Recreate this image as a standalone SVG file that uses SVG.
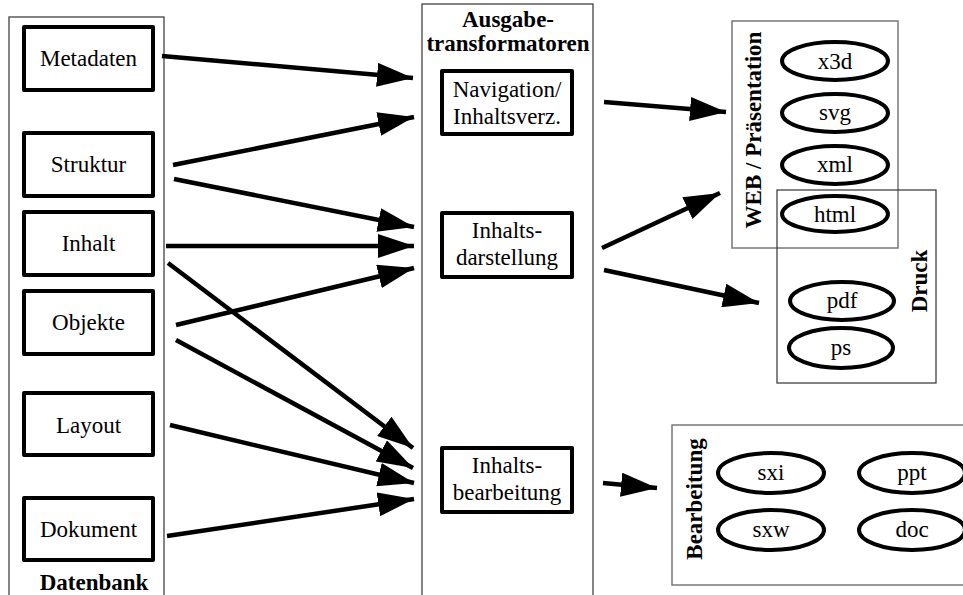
<svg xmlns="http://www.w3.org/2000/svg" width="963" height="595" viewBox="0 0 963 595">
  <style>
    text { font-family: "Liberation Serif", "Times New Roman", serif; font-size: 23px; fill: #000; }
    .bold { font-weight: bold; }
    .mid { text-anchor: middle; }
    .box { fill: #fff; stroke: #000; stroke-width: 4; stroke-linejoin: round; }
    .oval { fill: #fff; stroke: #000; stroke-width: 4; }
    .frame { fill: none; stroke: #333; stroke-width: 1.2; }
    .frame-light { fill: none; stroke: #777; stroke-width: 1.5; }
    .edge { stroke: #000; stroke-width: 4.5; fill: none; marker-end: url(#head); }
  </style>
  <defs>
    <marker id="head" markerUnits="userSpaceOnUse" markerWidth="37" markerHeight="24" refX="36" refY="12" orient="auto">
      <path d="M0,0 L36,12 L0,24 z" fill="#000"/>
    </marker>
  </defs>
  <rect width="963" height="595" fill="#fff"/>

  <!-- container frames -->
  <g id="datenbank">
    <rect class="frame" x="9" y="17" width="155" height="590"/>
    <text class="bold mid" x="94" y="590">Datenbank</text>
  </g>
  <g id="ausgabetransformatoren">
    <rect class="frame" x="422" y="4" width="171" height="600"/>
    <text class="bold mid" x="508" y="27">Ausgabe-</text>
    <text class="bold mid" x="508" y="51">transformatoren</text>
  </g>
  <g id="web">
    <rect class="frame-light" x="732" y="21" width="166" height="227"/>
    <text class="bold mid" transform="translate(761,130) rotate(-90)">WEB / Präsentation</text>
  </g>
  <g id="druck">
    <rect class="frame" x="777" y="190" width="159" height="193"/>
    <text class="bold mid" transform="translate(927,281) rotate(-90)">Druck</text>
  </g>
  <g id="bearbeitung">
    <rect class="frame-light" x="672" y="425" width="300" height="160"/>
    <text class="bold mid" transform="translate(702,499) rotate(-90)">Bearbeitung</text>
  </g>

  <!-- source boxes -->
  <g id="metadaten"><rect class="box" x="24" y="27" width="129" height="63"/><text class="mid" x="88.5" y="66">Metadaten</text></g>
  <g id="struktur"><rect class="box" x="24" y="133" width="129" height="63"/><text class="mid" x="88.5" y="172">Struktur</text></g>
  <g id="inhalt"><rect class="box" x="24" y="212" width="129" height="63"/><text class="mid" x="88.5" y="251">Inhalt</text></g>
  <g id="objekte"><rect class="box" x="24" y="291" width="129" height="63"/><text class="mid" x="88.5" y="330">Objekte</text></g>
  <g id="layout"><rect class="box" x="24" y="393" width="129" height="62"/><text class="mid" x="88.5" y="433">Layout</text></g>
  <g id="dokument"><rect class="box" x="24" y="498" width="129" height="62"/><text class="mid" x="88.5" y="537">Dokument</text></g>

  <!-- transformers -->
  <g id="navigation"><rect class="box" x="442" y="71" width="130" height="63"/><text class="mid" x="507" y="97">Navigation/</text><text class="mid" x="507" y="124">Inhaltsverz.</text></g>
  <g id="inhaltsdarstellung"><rect class="box" x="442" y="213" width="130" height="64"/><text class="mid" x="507" y="238">Inhalts-</text><text class="mid" x="507" y="265">darstellung</text></g>
  <g id="inhaltsbearbeitung"><rect class="box" x="442" y="448" width="130" height="64"/><text class="mid" x="507" y="473">Inhalts-</text><text class="mid" x="507" y="500">bearbeitung</text></g>

  <!-- output formats -->
  <g id="x3d"><ellipse class="oval" cx="835" cy="61" rx="53" ry="19"/><text class="mid" x="835" y="69">x3d</text></g>
  <g id="svg"><ellipse class="oval" cx="835" cy="113" rx="53" ry="19"/><text class="mid" x="835" y="120">svg</text></g>
  <g id="xml"><ellipse class="oval" cx="835" cy="165" rx="53" ry="19"/><text class="mid" x="835" y="172">xml</text></g>
  <g id="html"><ellipse class="oval" cx="835" cy="214" rx="53" ry="18"/><text class="mid" x="835" y="222">html</text></g>
  <g id="pdf"><ellipse class="oval" cx="842" cy="301" rx="52" ry="19"/><text class="mid" x="842" y="308">pdf</text></g>
  <g id="ps"><ellipse class="oval" cx="841" cy="348" rx="52" ry="20"/><text class="mid" x="841" y="355">ps</text></g>
  <g id="sxi"><ellipse class="oval" cx="771" cy="473" rx="53" ry="20"/><text class="mid" x="771" y="480">sxi</text></g>
  <g id="ppt"><ellipse class="oval" cx="912" cy="473" rx="53" ry="20"/><text class="mid" x="912" y="480">ppt</text></g>
  <g id="sxw"><ellipse class="oval" cx="771" cy="530" rx="53" ry="20"/><text class="mid" x="771" y="537">sxw</text></g>
  <g id="doc"><ellipse class="oval" cx="912" cy="530" rx="53" ry="20"/><text class="mid" x="912" y="537">doc</text></g>

  <!-- connectors -->
  <g id="connectors">
    <line class="edge" x1="162" y1="56" x2="413" y2="78"/>
    <line class="edge" x1="173" y1="165" x2="414" y2="117"/>
    <line class="edge" x1="174" y1="179" x2="414" y2="227"/>
    <line class="edge" x1="166" y1="246" x2="414" y2="246"/>
    <line class="edge" x1="176" y1="325" x2="414" y2="268"/>
    <line class="edge" x1="168" y1="263" x2="413" y2="448"/>
    <line class="edge" x1="176" y1="340" x2="413" y2="468"/>
    <line class="edge" x1="170" y1="425" x2="414" y2="483"/>
    <line class="edge" x1="167" y1="536" x2="414" y2="499"/>
    <line class="edge" x1="604" y1="102" x2="726" y2="112"/>
    <line class="edge" x1="602" y1="248" x2="720" y2="193"/>
    <line class="edge" x1="604" y1="270" x2="759" y2="303"/>
    <line class="edge" x1="603" y1="483" x2="657" y2="488"/>
  </g>
</svg>
